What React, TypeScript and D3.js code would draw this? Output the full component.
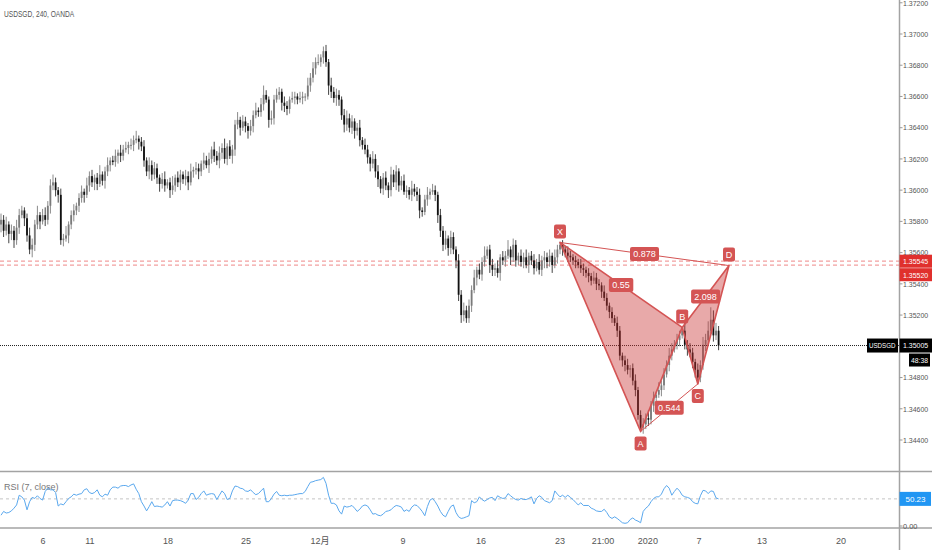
import * as d3 from "d3";
import { useMemo } from "react";

const W = 932;
const H = 550;
const AXIS_X = 899.5;
const FONT = "'Liberation Sans', 'Noto Sans CJK SC', sans-serif";

const title = "USDSGD, 240, OANDA";
const symbol = "USDSGD";
const countdown = "48:38";
const rsiTitle = "RSI (7, close)";

// 4h closes, in pips above 1.3400 (open = previous close)
const firstOpen = 178;
const closes = [
  181, 174, 178, 172, 174, 168, 176, 184, 187, 182,
  171, 162, 165, 178, 184, 180, 184, 181, 190, 203,
  205, 200, 197, 168, 169, 171, 178, 184, 187, 190,
  195, 199, 197, 203, 209, 205, 208, 204, 210, 206,
  212, 216, 219, 218, 222, 224, 222, 226, 227, 229,
  229, 232, 233, 231, 228, 219, 212, 216, 210, 214,
  208, 204, 207, 203, 205, 200, 203, 208, 205, 210,
  207, 209, 205, 212, 213, 214, 212, 217, 219, 216,
  220, 226, 222, 219, 224, 227, 220, 228, 222, 226,
  242, 245, 240, 244, 241, 238, 241, 248, 251, 250,
  255, 261, 258, 245, 246, 258, 261, 263, 256, 254,
  252, 258, 259, 260, 258, 259, 260, 260, 267, 272,
  278, 282, 282, 285, 289, 282, 267, 263, 259, 261,
  258, 248, 242, 246, 240, 244, 238, 240, 232, 229,
  226, 221, 217, 220, 212, 207, 201, 208, 203, 200,
  210, 205, 212, 203, 206, 199, 200, 197, 201, 199,
  197, 187, 186, 194, 197, 199, 200, 197, 184, 174,
  165, 169, 163, 170, 162, 155, 133, 120, 123, 118,
  126, 136, 144, 149, 146, 154, 158, 162, 152, 149,
  150, 147, 157, 155, 158, 162, 157, 165, 155, 158,
  154, 157, 152, 158, 155, 150, 154, 149, 155, 157,
  154, 158, 152, 157, 162, 165, 162, 160, 158, 157,
  155, 154, 152, 150, 149, 147, 145, 142, 144, 140,
  139, 135, 131, 126, 122, 118, 115, 110, 94, 91,
  88, 85, 86, 78, 72, 56, 48, 50, 54, 53,
  62, 67, 69, 72, 75, 82, 88, 94, 98, 101,
  104, 107, 110, 101, 98, 96, 90, 85, 80, 88,
  101, 104, 110, 117, 107, 110, 100.5,
];
// wick lengths in pips beyond the body
const upperWick = [
  4, 3, 5, 2, 4, 3, 5, 4, 3, 2, 3, 5, 4, 3, 6, 2, 4, 5, 3, 4,
  5, 3, 2, 4, 3, 6, 2, 3, 4, 2, 3, 4, 2, 5, 3, 4, 2, 3, 6, 2,
  3, 5, 2, 3, 4, 2, 5, 3, 4, 2, 4, 3, 5, 2, 3, 4, 2, 5, 3, 4,
  3, 2, 4, 5, 2, 3, 6, 2, 4, 3, 2, 4, 3, 5, 2, 4, 3, 2, 5, 3,
  4, 2, 5, 3, 4, 3, 6, 2, 4, 3, 3, 5, 2, 4, 3, 2, 4, 3, 5, 2,
  4, 6, 3, 2, 5, 3, 4, 3, 2, 4, 3, 2, 4, 3, 2, 4, 3, 2, 5, 3,
  4, 3, 5, 2, 3, 4, 2, 5, 3, 4, 3, 2, 4, 5, 3, 4, 2, 3, 5, 2,
  4, 3, 2, 5, 3, 4, 2, 3, 4, 2, 5, 3, 4, 2, 3, 4, 3, 2, 5, 3,
  3, 4, 2, 3, 5, 2, 4, 3, 2, 4, 3, 5, 2, 4, 3, 2, 4, 3, 5, 3,
  4, 3, 5, 2, 4, 3, 6, 2, 3, 4, 3, 5, 2, 4, 3, 6, 2, 4, 3, 2,
  4, 3, 5, 2, 3, 4, 2, 5, 3, 4, 3, 4, 2, 5, 3, 2, 3, 2, 4, 3,
  2, 3, 2, 4, 3, 2, 3, 2, 4, 3, 3, 2, 4, 3, 2, 3, 2, 4, 3, 2,
  3, 4, 2, 3, 4, 2, 3, 4, 3, 5, 3, 4, 2, 5, 3, 4, 3, 5, 4, 3,
  4, 3, 2, 5, 3, 4, 3, 2, 4, 3, 5, 4, 6, 8, 6, 5, 3,
];
const lowerWick = [
  5, 4, 3, 6, 4, 5, 3, 4, 2, 5, 4, 3, 5, 4, 3, 5, 2, 4, 3, 5,
  3, 4, 5, 3, 4, 2, 5, 3, 4, 3, 4, 3, 5, 2, 4, 3, 5, 4, 2, 3,
  5, 3, 4, 2, 3, 5, 4, 3, 2, 4, 3, 4, 2, 5, 3, 4, 3, 5, 4, 3,
  4, 5, 3, 4, 2, 5, 3, 4, 3, 5, 3, 4, 5, 2, 4, 3, 5, 3, 4, 2,
  5, 3, 4, 3, 5, 4, 3, 4, 2, 5, 4, 3, 5, 2, 4, 5, 3, 4, 2, 3,
  3, 4, 2, 5, 3, 4, 2, 3, 5, 4, 4, 3, 2, 4, 3, 2, 4, 3, 2, 4,
  3, 4, 2, 3, 4, 3, 6, 4, 3, 5, 4, 3, 5, 4, 3, 4, 5, 3, 4, 3,
  3, 4, 5, 3, 4, 5, 3, 4, 3, 5, 4, 3, 5, 4, 3, 2, 4, 3, 4, 3,
  4, 5, 3, 2, 4, 3, 2, 4, 5, 4, 4, 3, 5, 4, 3, 5, 4, 5, 4, 3,
  3, 4, 2, 5, 3, 4, 3, 2, 5, 4, 4, 3, 5, 3, 4, 2, 5, 3, 4, 3,
  3, 4, 2, 5, 3, 4, 2, 3, 4, 5, 4, 3, 5, 2, 4, 3, 4, 3, 4, 3,
  3, 4, 2, 3, 4, 3, 4, 3, 2, 4, 3, 4, 2, 3, 4, 3, 2, 4, 3, 4,
  4, 3, 5, 3, 4, 3, 3, 4, 3, 4, 3, 4, 3, 2, 4, 3, 2, 4, 3, 2,
  3, 4, 2, 3, 4, 3, 4, 5, 4, 3, 3, 4, 3, 2, 4, 3, 3,
];

const rsiValues = [
  20, 27, 24, 25, 28, 33, 39, 57, 54, 48, 30, 45, 53, 51, 56, 51, 48, 64, 70, 67,
  67, 62, 37, 41, 39, 45, 51, 54, 59, 57, 59, 60, 67, 69, 62, 60, 62, 67, 57, 54,
  59, 57, 67, 72, 72, 70, 74, 75, 75, 73, 76, 78, 68, 60, 45, 37, 28, 36, 45, 36,
  37, 36, 35, 39, 45, 37, 47, 48, 48, 47, 45, 42, 48, 60, 60, 49, 53, 60, 65, 57,
  59, 60, 59, 49, 57, 65, 60, 49, 51, 65, 74, 73, 70, 69, 65, 64, 67, 62, 58, 60,
  65, 70, 45, 45, 51, 59, 64, 57, 56, 57, 56, 57, 57, 58, 59, 60, 60, 64, 73, 81,
  82, 84, 85, 86, 90, 79, 57, 42, 42, 39, 28, 22, 37, 35, 36, 38, 33, 27, 31, 37,
  39, 37, 30, 22, 23, 20, 19, 22, 27, 28, 30, 35, 38, 37, 35, 27, 30, 27, 35, 39,
  38, 33, 27, 19, 36, 48, 51, 45, 37, 27, 20, 17, 27, 36, 39, 25, 17, 14, 15, 17,
  19, 47, 43, 45, 54, 49, 46, 49, 52, 53, 47, 56, 53, 51, 52, 60, 56, 52, 49, 48,
  51, 49, 49, 51, 54, 41, 51, 56, 53, 47, 45, 43, 47, 65, 59, 54, 57, 53, 57, 53,
  49, 44, 39, 43, 38, 38, 38, 33, 31, 28, 27, 27, 31, 25, 17, 14, 17, 14, 10, 6,
  5, 6, 12, 15, 11, 9, 6, 27, 33, 37, 45, 51, 54, 54, 59, 69, 75, 70, 57, 64,
  70, 65, 57, 54, 53, 51, 45, 42, 41, 56, 66, 65, 60, 65, 64, 52, 50.23,
];

const priceTicks = [1.372, 1.37, 1.368, 1.366, 1.364, 1.362, 1.36, 1.358, 1.356, 1.354, 1.352, 1.35, 1.348, 1.346, 1.344];
const timeLabels = ["6", "11", "18", "25", "12月", "9", "16", "23", "21:00", "2020", "7", "13", "20"];
const timeBars = [16.2, 34.2, 64.2, 94.2, 122.7, 154.6, 184.6, 215, 231.5, 248.8, 268.5, 292.7, 323.1];

// harmonic pattern
const pointNames = ["X", "A", "B", "C", "D"];
const pointBars = [215, 246, 262, 268, 280];
const pointPrices = [1.35665, 1.34455, 1.35121, 1.34759, 1.35517];
const pointAbove = [true, false, true, false, true];
const ratioPairs: [number, number][] = [[0, 4], [0, 2], [2, 4], [1, 3]];
const ratioLabels = ["0.878", "0.55", "2.098", "0.544"];

const alertLevels = [1.35545, 1.3552];
const lastPrice = 1.35005;

const PATTERN_RED = "#d45454";

export default function App() {
  const x = useMemo(() => d3.scaleLinear().domain([0, 276]).range([1, 718.6]), []);
  const y = useMemo(() => d3.scaleLinear().domain([1.344, 1.37]).range([440, 34]), []);
  const yR = useMemo(() => d3.scaleLinear().domain([0, 100]).range([526, 472]), []);
  const pip = (v: number) => 1.34 + v / 10000;

  const candles = closes.map((c, i) => {
    const o = i === 0 ? firstOpen : closes[i - 1];
    const hi = Math.max(o, c) + upperWick[i];
    const lo = Math.min(o, c) - lowerWick[i];
    return { i, o: pip(o), c: pip(c), h: pip(hi), l: pip(lo) };
  });

  const lastRsi = rsiValues[rsiValues.length - 1];
  const rsiLine = d3
    .line<number>()
    .x((_, i) => x(i))
    .y((d) => yR(d))(rsiValues);

  const pts = pointNames.map((n, k) => ({ n, px: x(pointBars[k]), py: y(pointPrices[k]), above: pointAbove[k] }));
  const tri = (a: number, b: number, c: number) =>
    `M${pts[a].px},${pts[a].py}L${pts[b].px},${pts[b].py}L${pts[c].px},${pts[c].py}Z`;

  const txt = { fontFamily: FONT, fontSize: 9 } as const;
  const axisTxt = { fontFamily: FONT, fontSize: 8 } as const;
  // the reference uses a condensed face; squeeze glyphs to the measured widths
  const squeeze = (s: string, perChar: number) => ({
    textLength: s.length * perChar,
    lengthAdjust: "spacingAndGlyphs" as const,
  });

  // the last-price badge hides the tick under it
  const visibleTicks = priceTicks.filter((p) => Math.abs(y(p) - y(lastPrice)) > 7);

  let badgeY = 0;

  return (
    <svg width={W} height={H} style={{ position: "absolute", left: 0, top: 0, background: "#fff" }}>
      <text x={4} y={17} fill="#555" {...txt} {...squeeze(title, 3.9)}>{title}</text>

      {/* alert levels */}
      {alertLevels.map((p, k) => (
        <line key={k} x1={0} x2={AXIS_X} y1={y(p)} y2={y(p)} stroke="#f2a0a0" strokeWidth={1.2} strokeDasharray="4 3" />
      ))}

      {/* candles */}
      <g>
        {candles.map((d) => {
          const up = d.c >= d.o;
          const cx = x(d.i);
          const top = y(Math.max(d.o, d.c));
          const bot = y(Math.min(d.o, d.c));
          return (
            <g key={d.i}>
              <line x1={cx} x2={cx} y1={y(d.h)} y2={y(d.l)} stroke={up ? "#8a8a8a" : "#444"} strokeWidth={1} />
              <rect x={cx - 0.9} y={top} width={1.8} height={Math.max(1, bot - top)} fill={up ? "#7a7a7a" : "#111"} />
            </g>
          );
        })}
      </g>

      {/* last price line */}
      <line x1={0} x2={AXIS_X} y1={y(lastPrice)} y2={y(lastPrice)} stroke="#222" strokeWidth={1} strokeDasharray="1 1" />

      {/* harmonic pattern */}
      <g>
        <path d={tri(0, 1, 2)} fill="#c83232" fillOpacity={0.42} stroke={PATTERN_RED} strokeWidth={1.6} strokeLinejoin="round" />
        <path d={tri(2, 3, 4)} fill="#c83232" fillOpacity={0.42} stroke={PATTERN_RED} strokeWidth={1.6} strokeLinejoin="round" />
        {ratioPairs.map(([a, b], k) =>
          k === 0 || k === 3 ? (
            <line key={k} x1={pts[a].px} y1={pts[a].py} x2={pts[b].px} y2={pts[b].py} stroke={PATTERN_RED} strokeWidth={1} />
          ) : null
        )}
        {ratioPairs.map(([a, b], k) => {
          const mx = (pts[a].px + pts[b].px) / 2;
          const my = (pts[a].py + pts[b].py) / 2;
          const w = ratioLabels[k].length * 4.6 + 6;
          return (
            <g key={k}>
              <rect x={mx - w / 2} y={my - 7} width={w} height={14} rx={2} fill={PATTERN_RED} />
              <text x={mx} y={my} dy="0.35em" textAnchor="middle" fill="#fff" {...txt}>{ratioLabels[k]}</text>
            </g>
          );
        })}
        {pts.map((p) => {
          const cy = p.above ? p.py - 11 : p.py + 12;
          return (
            <g key={p.n}>
              <rect x={p.px - 6} y={cy - 7} width={12} height={14} rx={2} fill={PATTERN_RED} />
              <text x={p.px} y={cy} dy="0.35em" textAnchor="middle" fill="#fff" {...txt}>{p.n}</text>
            </g>
          );
        })}
      </g>

      {/* RSI pane */}
      <text x={4} y={490} fill="#777" {...txt} {...squeeze(rsiTitle, 3.9)}>{rsiTitle}</text>
      <line x1={0} x2={AXIS_X} y1={yR(lastRsi)} y2={yR(lastRsi)} stroke="#c4c4c4" strokeDasharray="3 3" />
      <path d={rsiLine || ""} fill="none" stroke="#5aa8ee" strokeWidth={1} />

      {/* pane borders */}
      <line x1={0} x2={W} y1={471.5} y2={471.5} stroke="#a3a3a3" strokeWidth={1.5} />
      <line x1={0} x2={W} y1={528} y2={528} stroke="#a3a3a3" strokeWidth={1.5} />
      <line x1={AXIS_X} x2={AXIS_X} y1={0} y2={H} stroke="#a3a3a3" strokeWidth={1.5} />

      {/* price axis */}
      {visibleTicks.map((p) => (
        <g key={p}>
          <line x1={AXIS_X} x2={AXIS_X + 3} y1={y(p)} y2={y(p)} stroke="#999" />
          <text x={AXIS_X + 3.5} y={y(p)} dy="0.35em" fill="#555" {...axisTxt} {...squeeze(p.toFixed(5), 3.6)}>{p.toFixed(5)}</text>
        </g>
      ))}
      <line x1={AXIS_X} x2={AXIS_X + 3} y1={yR(0)} y2={yR(0)} stroke="#999" />
      <text x={AXIS_X + 3.5} y={yR(0)} dy="0.35em" fill="#555" {...axisTxt} {...squeeze("0.00", 3.6)}>{(0).toFixed(2)}</text>

      {/* axis badges */}
      {alertLevels.map((p, k) => {
        const cy = k === 0 ? y(p) : Math.max(y(p), badgeY + 13.5);
        badgeY = cy;
        return (
          <g key={k}>
            <rect x={AXIS_X} y={cy - 6.5} width={W - AXIS_X} height={13} fill="#e0302d" />
            <text x={AXIS_X + 3.5} y={cy} dy="0.35em" fill="#fff" {...axisTxt} {...squeeze(p.toFixed(5), 3.6)}>{p.toFixed(5)}</text>
          </g>
        );
      })}
      <g>
        <rect x={867} y={y(lastPrice) - 7} width={31} height={14} fill="#000" />
        <text x={869} y={y(lastPrice)} dy="0.35em" fill="#fff" {...axisTxt} {...squeeze(symbol, 4.4)}>{symbol}</text>
        <rect x={AXIS_X} y={y(lastPrice) - 7} width={W - AXIS_X} height={14} fill="#000" />
        <text x={AXIS_X + 3.5} y={y(lastPrice)} dy="0.35em" fill="#fff" {...axisTxt} {...squeeze(lastPrice.toFixed(5), 3.6)}>{lastPrice.toFixed(5)}</text>
        <rect x={909} y={y(lastPrice) + 8} width={21} height={13} fill="#000" />
        <text x={911} y={y(lastPrice) + 14.5} dy="0.35em" fill="#fff" {...axisTxt} {...squeeze(countdown, 3.4)}>{countdown}</text>
      </g>
      <g>
        <rect x={AXIS_X} y={yR(lastRsi) - 7} width={W - AXIS_X - 1} height={14} fill="#2196f3" />
        <text x={AXIS_X + 6} y={yR(lastRsi)} dy="0.35em" fill="#fff" {...axisTxt} {...squeeze(lastRsi.toFixed(2), 4)}>
          {lastRsi.toFixed(2)}
        </text>
      </g>

      {/* time axis */}
      {timeLabels.map((t, k) => (
        <text key={t + k} x={x(timeBars[k])} y={541} dy="0.35em" textAnchor="middle" fill="#555" {...txt}>{t}</text>
      ))}
    </svg>
  );
}
